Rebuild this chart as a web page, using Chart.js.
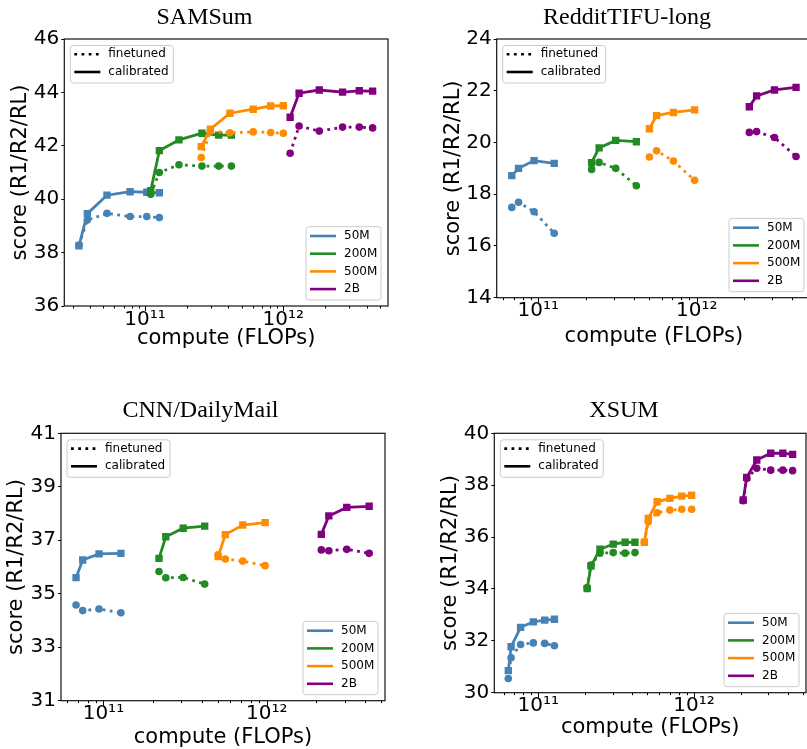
<!DOCTYPE html>
<html>
<head>
<meta charset="utf-8">
<script src="https://cdn.jsdelivr.net/npm/chart.js@4.4.1/dist/chart.umd.min.js"></script>
<style>
  html, body { margin: 0; padding: 0; background: #fff; }
  body { position: relative; width: 807px; height: 749px; overflow: hidden; }
  .panel { position: absolute; }
</style>
</head>
<body>
<div class="panel" style="left:0;top:0;width:400px;height:360px"><canvas id="samsum"></canvas></div>
<div class="panel" style="left:400px;top:0;width:420px;height:360px"><canvas id="reddit"></canvas></div>
<div class="panel" style="left:0;top:390px;width:400px;height:359px"><canvas id="cnn"></canvas></div>
<div class="panel" style="left:400px;top:390px;width:420px;height:359px"><canvas id="xsum"></canvas></div>
<script>
// model sizes and the two training variants
const sizeNames = ['50M', '200M', '500M', '2B'];
const variantNames = ['finetuned', 'calibrated'];
const sizeColors = ['#4682b4', '#228b22', '#ff8c00', '#800080'];

const xTickValues = [1e11, 1e12];
const xTickLabels = ['10¹¹', '10¹²'];

// SAMSum
const samsumYTicks = [36, 38, 40, 42, 44, 46];
const samsumCompute = [
  [3.33e10, 3.83e10, 5.31e10, 7.8e10, 1.03e11, 1.27e11],
  [1.1e11, 1.27e11, 1.76e11, 2.58e11, 3.41e11, 4.21e11],
  [2.55e11, 2.97e11, 4.11e11, 6.06e11, 8.1e11, 1.0e12],
  [1.12e12, 1.3e12, 1.82e12, 2.68e12, 3.54e12, 4.42e12],
];
const samsumFinetuned = [
  [38.28, 39.22, 39.47, 39.35, 39.35, 39.31],
  [40.19, 41.0, 41.29, 41.24, 41.24, 41.24],
  [41.56, 42.55, 42.49, 42.52, 42.5, 42.47],
  [41.72, 42.74, 42.55, 42.7, 42.7, 42.67],
];
const samsumCalibrated = [
  [38.25, 39.46, 40.15, 40.28, 40.26, 40.24],
  [40.32, 41.82, 42.22, 42.47, 42.4, 42.4],
  [41.97, 42.62, 43.22, 43.37, 43.49, 43.5],
  [43.07, 43.97, 44.09, 44.01, 44.06, 44.05],
];

// RedditTIFU-long
const redditYTicks = [14, 16, 18, 20, 22, 24];
const redditCompute = [
  [6.8e10, 7.5e10, 9.4e10, 1.26e11],
  [2.17e11, 2.42e11, 3.08e11, 4.16e11],
  [5.03e11, 5.58e11, 7.13e11, 9.7e11],
  [2.15e12, 2.39e12, 3.1e12, 4.24e12],
];
const redditFinetuned = [
  [17.49, 17.69, 17.32, 16.49],
  [18.96, 19.23, 19.0, 18.33],
  [19.44, 19.68, 19.28, 18.54],
  [20.39, 20.42, 20.19, 19.46],
];
const redditCalibrated = [
  [18.72, 19.0, 19.3, 19.19],
  [19.22, 19.79, 20.08, 20.03],
  [20.53, 21.04, 21.16, 21.26],
  [21.38, 21.8, 22.03, 22.13],
];

// CNN/DailyMail
const cnnYTicks = [31, 33, 35, 37, 39, 41];
const cnnCompute = [
  [6.8e10, 7.47e10, 9.4e10, 1.28e11],
  [2.19e11, 2.41e11, 3.08e11, 4.17e11],
  [5.04e11, 5.58e11, 7.13e11, 9.78e11],
  [2.16e12, 2.4e12, 3.09e12, 4.24e12],
];
const cnnFinetuned = [
  [34.58, 34.37, 34.43, 34.29],
  [35.83, 35.6, 35.61, 35.36],
  [36.46, 36.3, 36.22, 36.05],
  [36.64, 36.61, 36.66, 36.51],
];
const cnnCalibrated = [
  [35.6, 36.26, 36.49, 36.51],
  [36.32, 37.13, 37.45, 37.53],
  [36.39, 37.21, 37.57, 37.66],
  [37.22, 37.91, 38.23, 38.27],
];

// XSUM
const xsumYTicks = [30, 32, 34, 36, 38, 40];
const xsumCompute = [
  [6.42e10, 6.69e10, 7.7e10, 9.3e10, 1.1e11, 1.27e11],
  [2.06e11, 2.18e11, 2.49e11, 3.03e11, 3.61e11, 4.18e11],
  [4.8e11, 5.09e11, 5.8e11, 7.0e11, 8.34e11, 9.66e11],
  [2.07e12, 2.18e12, 2.53e12, 3.11e12, 3.72e12, 4.3e12],
];
const xsumFinetuned = [
  [30.55, 31.35, 31.86, 31.92, 31.9, 31.81],
  [34.05, 34.92, 35.38, 35.4, 35.38, 35.4],
  [35.8, 36.59, 36.94, 37.04, 37.07, 37.07],
  [37.4, 38.26, 38.65, 38.58, 38.58, 38.56],
];
const xsumCalibrated = [
  [30.85, 31.77, 32.52, 32.73, 32.8, 32.83],
  [34.01, 34.88, 35.53, 35.73, 35.8, 35.8],
  [35.8, 36.72, 37.36, 37.49, 37.58, 37.61],
  [37.43, 38.3, 38.97, 39.23, 39.23, 39.19],
];

Chart.defaults.font.family = "'DejaVu Sans', sans-serif";
Chart.defaults.color = '#000';

const DOTS = [2.8, 4.4];

function legendFrame(ctx, left, top, w, h) {
  ctx.beginPath();
  ctx.roundRect(left, top, w, h, 3);
  ctx.fillStyle = 'rgba(255,255,255,0.8)';
  ctx.fill();
  ctx.strokeStyle = '#cccccc';
  ctx.lineWidth = 1;
  ctx.stroke();
}

function legendRow(ctx, left, y, label, color, dash) {
  ctx.beginPath();
  ctx.setLineDash(dash);
  ctx.strokeStyle = color;
  ctx.lineWidth = 2.6;
  ctx.moveTo(left + 4, y);
  ctx.lineTo(left + 30, y);
  ctx.stroke();
  ctx.setLineDash([]);
  ctx.fillStyle = '#000';
  ctx.font = "12px 'DejaVu Sans'";
  ctx.textAlign = 'left';
  ctx.textBaseline = 'middle';
  ctx.fillText(label, left + 38, y);
}

// box around the axes, log tick marks and both legends
const decor = {
  id: 'decor',
  afterDraw(chart) {
    const { ctx, chartArea: a } = chart;
    const x = chart.scales.x;
    ctx.save();
    ctx.strokeStyle = '#000';
    ctx.lineWidth = 1;
    x.ticks.forEach((t) => {
      if (t.value <= x.min || t.value >= x.max) return;
      const e = Math.floor(Math.log10(t.value) + 1e-9);
      const m = t.value / Math.pow(10, e);
      if (Math.abs(m - Math.round(m)) > 1e-6) return;
      const px = Math.round(x.getPixelForValue(t.value)) + 0.5;
      const len = Math.round(m) === 1 ? 5 : 2.5;
      ctx.beginPath();
      ctx.moveTo(px, a.bottom);
      ctx.lineTo(px, a.bottom + len);
      ctx.stroke();
    });
    ctx.lineWidth = 1.2;
    ctx.strokeStyle = '#111';
    ctx.strokeRect(a.left, a.top, a.right - a.left, a.bottom - a.top);

    const l1 = a.left + 6, t1 = a.top + 6.5;
    legendFrame(ctx, l1, t1, 103, 37.5);
    legendRow(ctx, l1, t1 + 8.8, variantNames[0], '#000', DOTS);
    legendRow(ctx, l1, t1 + 26.5, variantNames[1], '#000', []);

    const w2 = 75, h2 = 73.3;
    const l2 = a.right - 7 - w2, t2 = a.bottom - 6 - h2;
    legendFrame(ctx, l2, t2, w2, h2);
    sizeNames.forEach((name, i) => {
      legendRow(ctx, l2, t2 + 9.3 + i * 17.7, name, sizeColors[i], []);
    });
    ctx.restore();
  },
};

function buildDatasets(compute, finetuned, calibrated) {
  const sets = [];
  sizeNames.forEach((name, i) => {
    [finetuned, calibrated].forEach((series, k) => {
      sets.push({
        label: name + ' ' + variantNames[k],
        data: compute[i].map((c, j) => ({ x: c, y: series[i][j] })),
        borderColor: sizeColors[i],
        backgroundColor: sizeColors[i],
        borderWidth: 2.8,
        borderDash: k === 0 ? DOTS : [],
        pointStyle: k === 0 ? 'circle' : 'rect',
        pointRadius: k === 0 ? 3.8 : 5.2,
        pointBorderWidth: 0,
        tension: 0,
        order: -sets.length,
      });
    });
  });
  return sets;
}

function makeChart(p) {
  return new Chart(document.getElementById(p.id), {
    type: 'line',
    data: { datasets: buildDatasets(p.compute, p.finetuned, p.calibrated) },
    options: {
      responsive: true,
      maintainAspectRatio: false,
      animation: false,
      events: [],
      layout: { padding: { left: p.padLeft, right: p.padRight, top: 0, bottom: 0 } },
      plugins: {
        legend: { display: false },
        tooltip: { enabled: false },
        title: {
          display: true,
          text: p.title,
          color: '#000',
          font: { family: "'Liberation Serif', 'Times New Roman', serif", size: 24, weight: 'normal' },
          padding: { top: p.titleTop, bottom: p.titleBottom },
        },
      },
      scales: {
        x: {
          type: 'logarithmic',
          min: p.xMin,
          max: p.xMax,
          grid: { display: false, drawTicks: false },
          border: { display: false },
          ticks: {
            autoSkip: false,
            maxRotation: 0,
            padding: 1.5,
            color: '#000',
            font: { size: 20 },
            callback: (v) => {
              const i = xTickValues.findIndex((t) => Math.abs(t - v) / t < 1e-6);
              return i < 0 ? '' : xTickLabels[i];
            },
          },
          title: {
            display: true,
            text: 'compute (FLOPs)',
            color: '#000',
            font: { size: 21 },
            padding: { top: 0, bottom: p.xTitleBottom },
          },
          afterFit: (s) => { s.height = p.xHeight; },
        },
        y: {
          min: p.yTicks[0],
          max: p.yTicks[p.yTicks.length - 1],
          afterBuildTicks: (s) => { s.ticks = p.yTicks.map((v) => ({ value: v })); },
          grid: { drawOnChartArea: false, drawTicks: true, tickLength: 3, tickColor: '#000' },
          border: { display: false },
          ticks: { padding: 2, color: '#000', font: { size: 20 } },
          title: {
            display: true,
            text: 'score (R1/R2/RL)',
            color: '#000',
            font: { size: 21 },
            padding: { top: p.yTitleTop, bottom: 0 },
          },
          afterFit: (s) => { s.width = p.yWidth; },
        },
      },
    },
    plugins: [decor],
  });
}

makeChart({
  id: 'samsum', title: 'SAMSum',
  compute: samsumCompute, finetuned: samsumFinetuned, calibrated: samsumCalibrated, yTicks: samsumYTicks,
  xMin: 2.61e10, xMax: 5.71e12,
  padLeft: 21, padRight: 12, yWidth: 43.3, xHeight: 54,
  titleTop: 3, titleBottom: 7.2, yTitleTop: -13.3, xTitleBottom: 8.4,
});
makeChart({
  id: 'reddit', title: 'RedditTIFU-long',
  compute: redditCompute, finetuned: redditFinetuned, calibrated: redditCalibrated, yTicks: redditYTicks,
  xMin: 5.46e10, xMax: 5.27e12,
  padLeft: 43, padRight: 9, yWidth: 53.7, xHeight: 62.3,
  titleTop: 3, titleBottom: 7.2, yTitleTop: -1.6, xTitleBottom: 10.4,
});
makeChart({
  id: 'cnn', title: 'CNN/DailyMail',
  compute: cnnCompute, finetuned: cnnFinetuned, calibrated: cnnCalibrated, yTicks: cnnYTicks,
  xMin: 5.5e10, xMax: 5.3e12,
  padLeft: 16, padRight: 15, yWidth: 45, xHeight: 48.3,
  titleTop: 6.8, titleBottom: 7.7, yTitleTop: -11.6, xTitleBottom: -1.6,
});
makeChart({
  id: 'xsum', title: 'XSUM',
  compute: xsumCompute, finetuned: xsumFinetuned, calibrated: xsumCalibrated, yTicks: xsumYTicks,
  xMin: 5.22e10, xMax: 5.24e12,
  padLeft: 42, padRight: 14, yWidth: 52.3, xHeight: 56.3,
  titleTop: 6.8, titleBottom: 7.7, yTitleTop: -3.6, xTitleBottom: 8.4,
});
</script>
</body>
</html>
